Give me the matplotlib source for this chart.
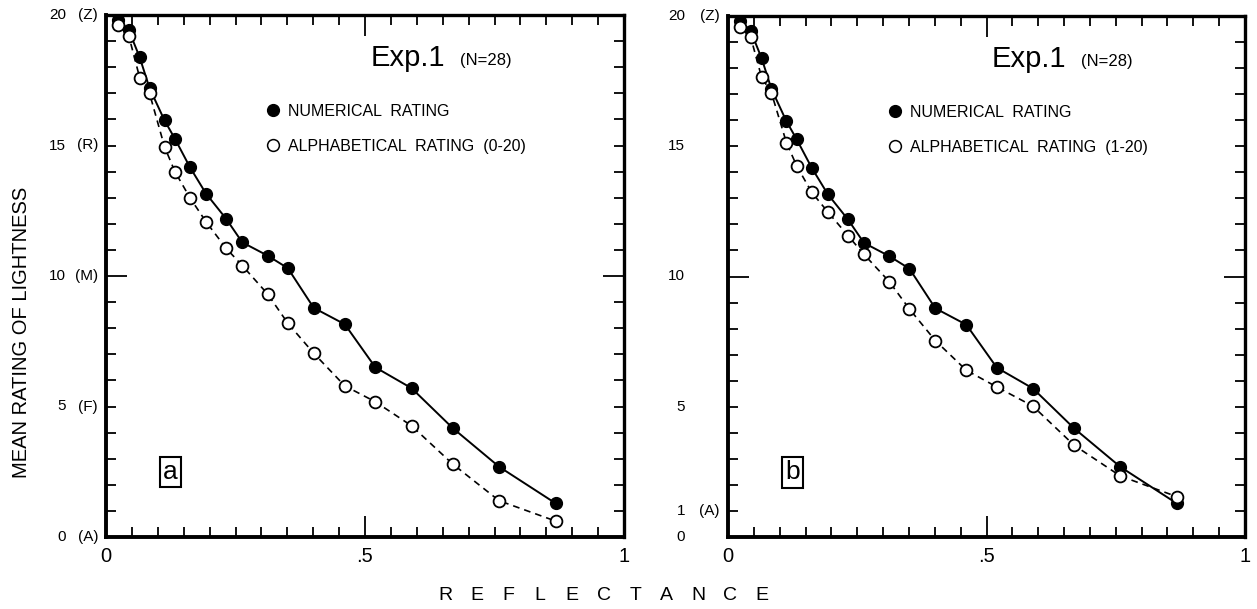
import matplotlib.pyplot as plt
from matplotlib.lines import Line2D
from matplotlib.ticker import MultipleLocator

plt.rcParams['font.family'] = ['Liberation Sans', 'DejaVu Sans']

# data (same reflectance set in both panels)
reflectance = [0.023, 0.044, 0.065, 0.084, 0.113, 0.133, 0.162, 0.193, 0.232, 0.263,
               0.312, 0.351, 0.401, 0.461, 0.520, 0.590, 0.669, 0.759, 0.868]
numerical = [19.82, 19.42, 18.38, 17.2, 15.96, 15.26, 14.17, 13.16, 12.19, 11.29,
             10.78, 10.30, 8.78, 8.15, 6.5, 5.7, 4.18, 2.69, 1.29]
alpha_0_20 = [19.6, 19.2, 17.6, 17.0, 14.95, 14.0, 13.0, 12.08, 11.06, 10.4,
              9.31, 8.19, 7.04, 5.79, 5.18, 4.26, 2.80, 1.39, 0.61]
alpha_1_20 = [19.57, 19.18, 17.65, 17.05, 15.14, 14.24, 13.23, 12.48, 11.57, 10.85,
              9.80, 8.75, 7.54, 6.4, 5.76, 5.02, 3.53, 2.34, 1.55]

yticks_a = [20, 15, 10, 5, 0]
ynum_a = ['20', '15', '10', '5', '0']
ylet_a = ['(Z)', '(R)', '(M)', '(F)', '(A)']
yticks_b = [20, 15, 10, 5, 1, 0]
ynum_b = ['20', '15', '10', '5', '1', '0']
ylet_b = ['(Z)', '', '', '', '(A)', '']

W, H = 1257, 609
fig = plt.figure(figsize=(W / 100, H / 100), dpi=100)
ax_a = fig.add_axes([106 / W, 1 - 537 / H, 518 / W, 522 / H])
ax_b = fig.add_axes([728 / W, 1 - 537 / H, 517 / W, 521 / H])


def panel(ax, alpha, alpha_label, letter, yt, ynum, ylet, num_x, let_x):
    ax.plot(reflectance, numerical, '-o', color='black', lw=1.4, ms=8.5,
            mfc='black', mec='black', zorder=3)
    ax.plot(reflectance, alpha, '--o', color='black', lw=1.2, ms=8.5,
            mfc='white', mec='black', mew=1.3, dashes=(4, 3), zorder=4)
    ax.set_xlim(0, 1)
    ax.set_ylim(0, 20)
    for s in ax.spines.values():
        s.set_linewidth(2.4)
    ax.spines['left'].set_linewidth(2.8)
    ax.spines['bottom'].set_linewidth(2.8)

    ax.set_xticks([0, 0.5, 1])
    ax.set_xticklabels(['0', '.5', '1'])
    ax.xaxis.set_minor_locator(MultipleLocator(0.05))
    ax.set_yticks([0, 10, 20])
    ax.set_yticklabels([])
    ax.yaxis.set_minor_locator(MultipleLocator(1))
    ax.tick_params(which='both', direction='in', top=True, right=True, width=1.3)
    ax.tick_params(which='major', length=15, labelsize=14.5, pad=7)
    ax.tick_params(which='minor', length=7.5)

    tr = ax.get_yaxis_transform()
    for v, n, l in zip(yt, ynum, ylet):
        ax.text(num_x, v, n, transform=tr, ha='right', va='center', fontsize=11)
        if l:
            ax.text(let_x, v, l, transform=tr, ha='right', va='center', fontsize=11)

    ax.text(0.51, 0.918, 'Exp.1', transform=ax.transAxes, fontsize=21,
            ha='left', va='center')
    ax.text(0.683, 0.912, '(N=28)', transform=ax.transAxes, fontsize=12,
            ha='left', va='center')

    handles = [Line2D([], [], ls='none', marker='o', ms=8.5, mfc='black', mec='black'),
               Line2D([], [], ls='none', marker='o', ms=8.5, mfc='white', mec='black', mew=1.1)]
    ax.legend(handles, ['NUMERICAL  RATING', alpha_label], loc='upper left',
              bbox_to_anchor=(0.311, 0.83), frameon=False, fontsize=11.5,
              borderpad=0, borderaxespad=0, handlelength=0.8, handletextpad=0.5,
              labelspacing=1.25)

    ax.text(0.125, 0.124, letter, transform=ax.transAxes, fontsize=19,
            ha='center', va='center',
            bbox=dict(boxstyle='square,pad=0.12', fc='white', ec='black', lw=1.5))


panel(ax_a, alpha_0_20, 'ALPHABETICAL  RATING  (0-20)', 'a',
      yticks_a, ynum_a, ylet_a, -0.077, -0.0154)
panel(ax_b, alpha_1_20, 'ALPHABETICAL  RATING  (1-20)', 'b',
      yticks_b, ynum_b, ylet_b, -0.083, -0.0155)

fig.text(21.7 / W, 1 - 332 / H, 'MEAN RATING OF LIGHTNESS', rotation=90,
         fontsize=14.5, ha='center', va='center')

for i, ch in enumerate('REFLECTANCE'):
    fig.text((445 + i * 31.7) / W, 1 - 595 / H, ch, fontsize=14,
             ha='center', va='center')

fig.savefig('out.png', dpi=100, facecolor='white')
